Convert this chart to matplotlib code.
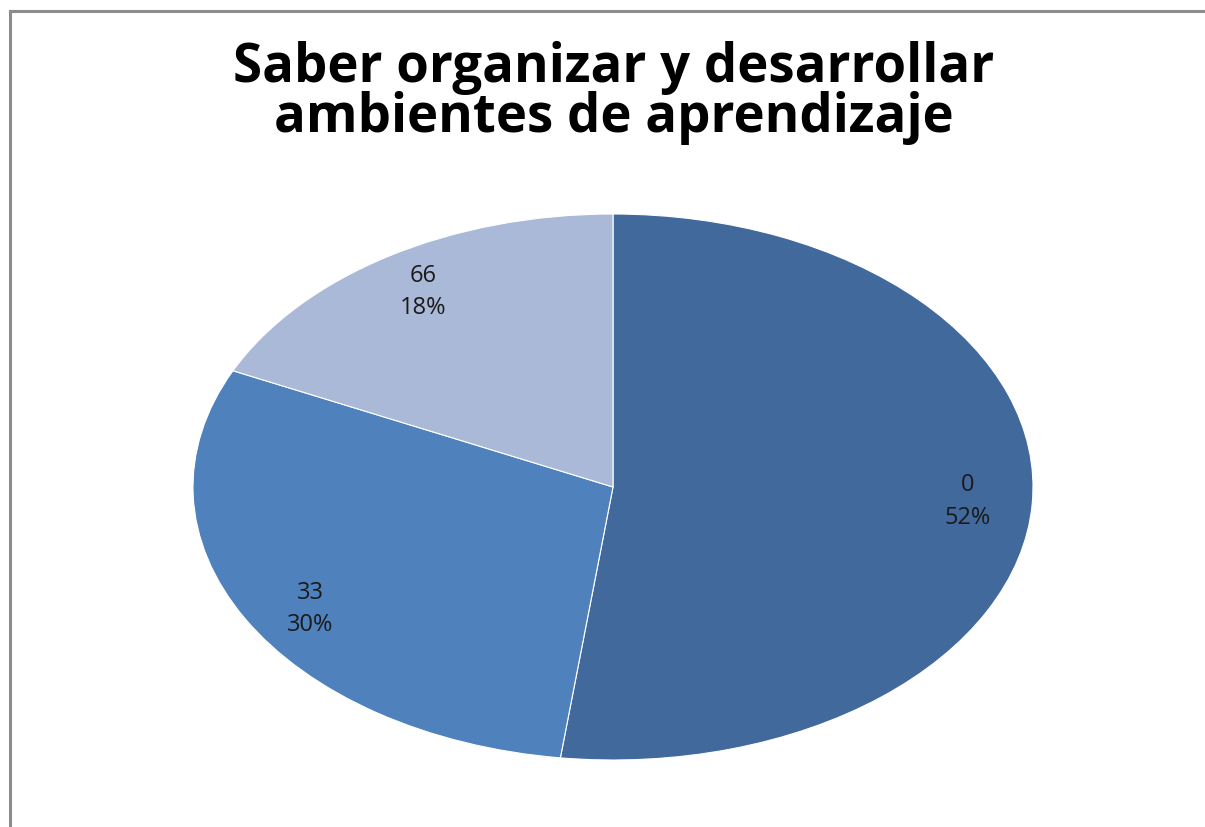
import matplotlib.pyplot as plt
from matplotlib.lines import Line2D

categories = ['0', '33', '66']
percents = [52, 30, 18]
colors = ['#41699c', '#4f81bd', '#aab9d8']

fig = plt.figure(figsize=(12.05, 8.27), dpi=100)
fig.patch.set_facecolor('white')

# grey chart-area frame (left and top edges visible)
fig.add_artist(Line2D([9.5 / 1205, 9.5 / 1205], [0, 1 - 11 / 827], color='#8c8c8c', lw=2.2))
fig.add_artist(Line2D([9.5 / 1205, 1], [1 - 11 / 827, 1 - 11 / 827], color='#8c8c8c', lw=2.2))

fig.text(0.509, 0.950, 'Saber organizar y desarrollar\nambientes de aprendizaje',
         ha='center', va='top', fontsize=38, fontweight='bold',
         family='Open Sans', linespacing=0.9, color='black')

# stretched (elliptical) pie, like the original
ax = fig.add_axes([193 / 1205, 67 / 827, 840 / 1205, 546 / 827])
labels = [f'{c}\n{p}%' for c, p in zip(categories, percents)]
wedges, texts = ax.pie(percents, labels=labels, colors=colors, startangle=90,
                       counterclock=False, labeldistance=0.845,
                       wedgeprops=dict(edgecolor='white', linewidth=0.8),
                       textprops=dict(fontsize=17, family='Open Sans', color='#1a1a1a',
                                      linespacing=1.45))
for t in texts:
    t.set_ha('center')
    t.set_va('center')
# small nudge for the lower-left label, as in the original
x, y = texts[1].get_position()
texts[1].set_position((x + 0.02, y - 0.04))
ax.set_aspect('auto')
ax.set_xlim(-1, 1)
ax.set_ylim(-1, 1)
ax.axis('off')

fig.savefig('out.png', dpi=100)
